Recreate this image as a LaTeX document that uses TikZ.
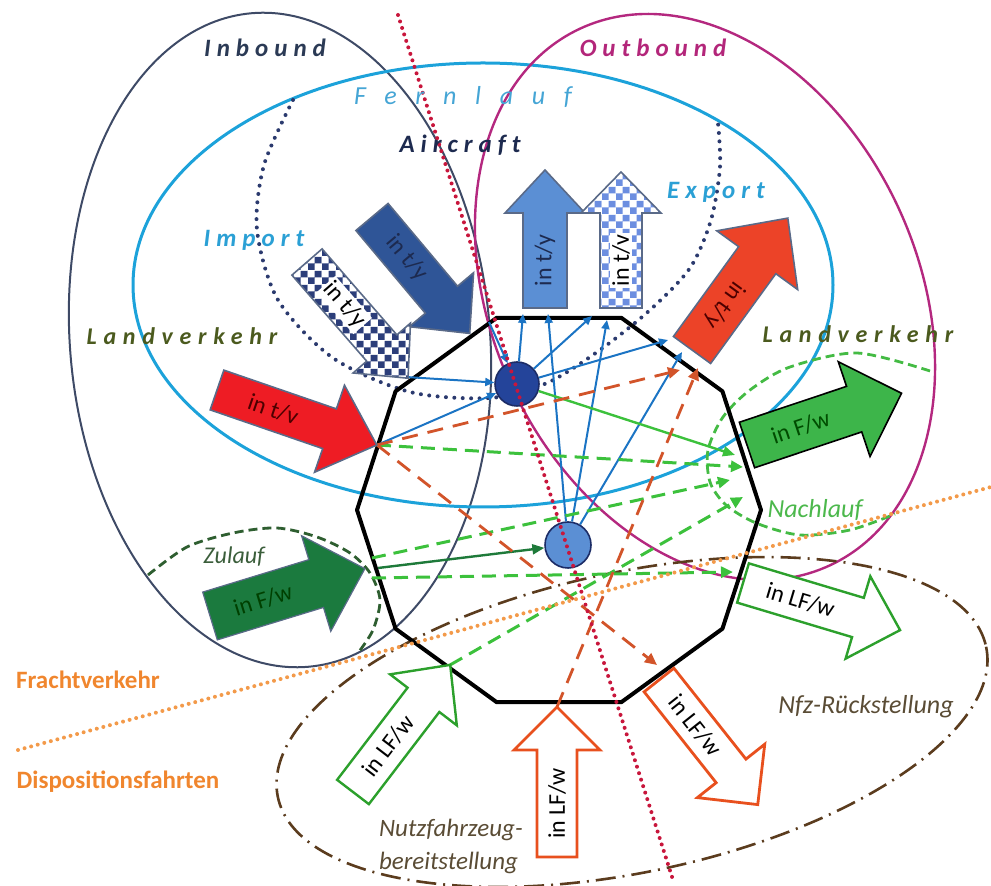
\documentclass[tikz,border=0pt]{standalone}
\usepackage{fontspec}
\setmainfont{Carlito}
\usetikzlibrary{arrows.meta,patterns}

\definecolor{inbline}{HTML}{3E4A66}
\definecolor{outbline}{HTML}{B4287F}
\definecolor{fernline}{HTML}{1CA2DA}
\definecolor{airdot}{HTML}{2B3A6E}
\definecolor{zulline}{HTML}{2E5E30}
\definecolor{nachline}{HTML}{44BB44}
\definecolor{nfzline}{HTML}{5B3C1E}
\definecolor{reddot}{HTML}{C8163C}
\definecolor{orgdot}{HTML}{F39A4A}
\definecolor{flowblue}{HTML}{1B74C4}
\definecolor{flowgreen}{HTML}{3CC13C}
\definecolor{flowdkgreen}{HTML}{1E7A3A}
\definecolor{flowrust}{HTML}{D2542A}
\definecolor{hubedge}{HTML}{1C2C66}
\definecolor{acfill}{HTML}{24449A}
\definecolor{trkfill}{HTML}{5B8FD4}
\definecolor{dkblue}{HTML}{2F5597}
\definecolor{midblue}{HTML}{5B8FD4}
\definecolor{arredge}{HTML}{5A6A88}
\definecolor{impcheck}{HTML}{2C3E7A}
\definecolor{skycheck}{HTML}{6C8EE0}
\definecolor{expred}{HTML}{EC4328}
\definecolor{lvred}{HTML}{EE1C24}
\definecolor{lvgreen}{HTML}{3DB54A}
\definecolor{zulgreen}{HTML}{1B7A3E}
\definecolor{lfgreen}{HTML}{2CA02C}
\definecolor{lforange}{HTML}{E8501E}
\definecolor{inbtext}{HTML}{2B3A55}
\definecolor{outbtext}{HTML}{B3267A}
\definecolor{ferntext}{HTML}{45A5D5}
\definecolor{airtext}{HTML}{1D2A4F}
\definecolor{imptext}{HTML}{2BA0D5}
\definecolor{landtext}{HTML}{4B5A1E}
\definecolor{zultext}{HTML}{3B5E3B}
\definecolor{nachtext}{HTML}{4CB84C}
\definecolor{orgtext}{HTML}{F0862E}
\definecolor{nfztext}{HTML}{5A4C35}

% checker fills, squares of 3.5pt
\pgfdeclarepatterninherentlycolored{navychecks}{\pgfpointorigin}{\pgfqpoint{7pt}{7pt}}{\pgfqpoint{7pt}{7pt}}{%
  \pgfsetfillcolor{white}\pgfpathrectangle{\pgfpointorigin}{\pgfqpoint{7pt}{7pt}}\pgfusepath{fill}%
  \pgfsetfillcolor{impcheck}%
  \pgfpathrectangle{\pgfpointorigin}{\pgfqpoint{3.5pt}{3.5pt}}%
  \pgfpathrectangle{\pgfqpoint{3.5pt}{3.5pt}}{\pgfqpoint{3.5pt}{3.5pt}}\pgfusepath{fill}}
\pgfdeclarepatterninherentlycolored{skychecks}{\pgfpointorigin}{\pgfqpoint{7pt}{7pt}}{\pgfqpoint{7pt}{7pt}}{%
  \pgfsetfillcolor{white}\pgfpathrectangle{\pgfpointorigin}{\pgfqpoint{7pt}{7pt}}\pgfusepath{fill}%
  \pgfsetfillcolor{skycheck}%
  \pgfpathrectangle{\pgfpointorigin}{\pgfqpoint{3.5pt}{3.5pt}}%
  \pgfpathrectangle{\pgfqpoint{3.5pt}{3.5pt}}{\pgfqpoint{3.5pt}{3.5pt}}\pgfusepath{fill}}

\tikzset{
  hull/.style={line width=2pt, line join=round},
  hub/.style={circle, draw=hubedge, line width=0.8pt, minimum size=22pt, inner sep=0pt},
  flow/.style={draw=flowblue, line width=1pt, -{Triangle[length=4.5pt,width=4pt]}},
  gflow/.style={line width=1.2pt, -{Triangle[length=6pt,width=5pt]}},
  gdash/.style={draw=flowgreen, line width=1.5pt, dash pattern=on 7pt off 4pt, -{Triangle[length=6pt,width=5.5pt]}},
  odash/.style={draw=flowrust, line width=1.4pt, dash pattern=on 8pt off 5pt, -{Triangle[length=6pt,width=5.5pt]}},
  dotline/.style={line width=2pt, line cap=round, dash pattern=on 0pt off 3.4pt},
  arrowtext/.style={font=\fontsize{12}{12}\selectfont, inner sep=1pt},
  bigtag/.style={font=\fontsize{12.5}{15}\selectfont\bfseries\itshape\addfontfeature{LetterSpace=24,Ligatures=NoCommon}},
  tag/.style={font=\fontsize{13}{15}\selectfont\itshape},
  sidetag/.style={font=\fontsize{12.5}{15}\selectfont\bfseries, text=orgtext},
  pics/fatarrow/.style n args={7}{code={
    \begin{scope}[rotate=#1]
      \path[pic actions] (0,-#3) -- ({#2-#5},-#3) -- ({#2-#5},-#4) -- (#2,0)
        -- ({#2-#5},#4) -- ({#2-#5},#3) -- (0,#3) -- cycle;
      \node (-txt) [arrowtext, rotate=#6] at ({(#2-#5)/2},0) {#7};
    \end{scope}}},
}

\begin{document}
\begin{tikzpicture}[x=0.5pt, y=-0.5pt]
	\useasboundingbox (0,0) rectangle (991,886);

	%areas
	\draw[inbline, line width=1pt, rotate around={5:(280,340)}] (280,340) ellipse (210 and 328);
	\draw[fernline, line width=1.5pt] (483,285) ellipse (350 and 222);
	\draw[outbline, line width=1.2pt, rotate around={25:(705,297)}] (705,297) ellipse (213 and 296);
	\draw[nfzline, line width=1.3pt, dash pattern=on 10pt off 3.5pt on 1pt off 3.5pt, rotate around={12:(632,722)}] (632,722) ellipse (362 and 150);
	\draw[airdot, dotline, dash pattern=on 0pt off 4.2pt, smooth] plot coordinates {(293,100) (264,165) (257,230) (278,300) (333,358) (410,392) (490,398) (547,383) (600,350) (650,310) (690,268) (711,220) (720,167) (718,123)};
	\draw[zulline, line width=1.4pt, dash pattern=on 4.5pt off 2.5pt, smooth] plot coordinates {(148,575) (187,547) (233,533) (277,528) (317,537) (350,553) (370,573) (380,600) (373,630) (358,653)};
	\draw[nachline, line width=1.4pt, dash pattern=on 4.5pt off 2.5pt, smooth] plot coordinates {(930,371) (857,353) (790,367) (750,390) (723,417) (708,450) (710,482) (726,505) (756,523) (800,535) (850,530) (895,514)};

	%terminal
	\coordinate (ctr) at (559,510);
	\draw[hull] ([shift={(0:202)}]ctr) \foreach \k in {1,...,9}{ -- ([shift={(36*\k:202)}]ctr)} -- cycle;

	%hubs
	\node (air) [hub, fill=acfill] at (517,384) {};
	\node (trk) [hub, fill=trkfill, minimum size=23pt] at (568,545) {};

	%ports on the hull
	\coordinate (acin) at (489,322);
	\coordinate (imptip) at (406,377);
	\coordinate (redtip) at (377,445);
	\coordinate (upa) at (523,314);
	\coordinate (upb) at (548,314);
	\coordinate (cka) at (592,316);
	\coordinate (ckb) at (607,320);
	\coordinate (exa) at (668,340);
	\coordinate (exb) at (682,352);
	\coordinate (exc) at (680,370);
	\coordinate (exd) at (698,368);
	\coordinate (fwin) at (735,455);
	\coordinate (zula) at (372,558);
	\coordinate (zulb) at (372,578);
	\coordinate (zultip) at (378,568);
	\coordinate (lfwtip) at (450,665);
	\coordinate (lfwin) at (733,572);
	\coordinate (upotip) at (557,707);
	\coordinate (dotail) at (657,665);
	\coordinate (naa) at (743,467);
	\coordinate (nab) at (730,480);
	\coordinate (nac) at (743,497);

	%flows
	\draw[flow] (acin) -- (air);
	\draw[flow] (imptip) -- (air);
	\draw[flow] (redtip) -- (air);
	\draw[flow] (air) -- (upa);
	\draw[flow] (air) -- (cka);
	\draw[flow] (air) -- (exa);
	\draw[flow] (trk) -- (upb);
	\draw[flow] (trk) -- (ckb);
	\draw[flow] (trk) -- (exb);
	\draw[gflow, draw=flowgreen] (air) -- (fwin);
	\draw[gflow, draw=flowdkgreen] (zultip) -- (trk);
	\draw[gdash] (redtip) -- (naa);
	\draw[gdash] (zula) -- (nab);
	\draw[gdash] (zulb) -- (lfwin);
	\draw[gdash] (lfwtip) -- (nac);
	\draw[odash] (redtip) -- (exc);
	\draw[odash] (redtip) -- (dotail);
	\draw[odash] (upotip) -- (exd);

	%block arrows
	\pic (acimp) [fill=dkblue, draw=arredge, line width=0.8pt, text=airtext] at (372,217) {fatarrow={-50}{152}{21}{42}{44}{-50}{in t/y}};
	\pic (imp) [pattern=navychecks, draw=arredge, line width=0.8pt, every node/.append style={fill=white}] at (307,262) {fatarrow={-49}{154}{20}{38}{40}{-49}{in t/y}};
	\pic (acexp) [fill=midblue, draw=arredge, line width=0.8pt, text=airtext] at (545,308) {fatarrow={90}{138}{22}{40}{43}{90}{in t/y}};
	\pic (exp) [pattern=skychecks, draw=arredge, line width=0.8pt, every node/.append style={fill=white}] at (621,308) {fatarrow={90}{136}{21}{40}{41}{90}{in t/v}};
	\pic (lvexp) [fill=expred, draw=arredge, line width=0.8pt, text=black!70!red] at (692,350) {fatarrow={54}{163}{23}{50}{52}{234}{in t/y}};
	\pic (lvimp) [fill=lvred, draw=arredge, line width=0.8pt, text=black!70!red] at (217,390) {fatarrow={-19}{169}{21}{46}{50}{-19}{in t/v}};
	\pic (nach) [fill=lvgreen, draw=black, line width=0.8pt, text=black!70!green] at (747,445) {fatarrow={18.5}{163}{24}{50}{50}{18.5}{in F/w}};
	\pic (zul) [fill=zulgreen, draw=arredge, line width=0.6pt, text=black!75!green, every node/.append style={font=\fontsize{11}{11}\selectfont}] at (210,616) {fatarrow={17}{162}{25}{50}{51}{17}{in F/w}};
	\pic (bsin) [fill=white, draw=lfgreen, line width=1.2pt] at (353,792) {fatarrow={52.6}{160}{20}{42}{44}{52.6}{in LF/w}};
	\pic (nfzout) [fill=white, draw=lforange, line width=1.4pt] at (557,857) {fatarrow={90}{150}{20}{43}{43}{90}{in LF/w}};
	\pic (nfzin) [fill=white, draw=lforange, line width=1.4pt] at (659,680) {fatarrow={-51.6}{159}{19}{43}{43}{-51.6}{in LF/w}};
	\pic (bsout) [fill=white, draw=lfgreen, line width=1.2pt] at (743,583) {fatarrow={-16.7}{164}{20.5}{43}{44}{-16.7}{in LF/w}};

	%dividers
	\draw[reddot, dotline] (398,15) -- (673,880);
	\draw[orgdot, dotline] (18,750) -- (991,487);

	%labels
	\node (inb) [bigtag, text=inbtext] at (265,48) {Inbound};
	\node (outb) [bigtag, text=outbtext] at (653,48) {Outbound};
	\node (fern) [font=\fontsize{13}{15}\selectfont\itshape\addfontfeature{LetterSpace=72}, text=ferntext] at (463,97) {Fernlauf};
	\node (aircr) [bigtag, text=airtext] at (460,145) {Aircraft};
	\node (impl) [bigtag, text=imptext] at (254,240) {Import};
	\node (expl) [bigtag, text=imptext] at (716,192) {Export};
	\node (landl) [bigtag, font=\fontsize{12}{15}\selectfont\bfseries\itshape\addfontfeature{LetterSpace=28}, text=landtext] at (182,336) {Landverkehr};
	\node (landr) [bigtag, font=\fontsize{12}{15}\selectfont\bfseries\itshape\addfontfeature{LetterSpace=28}, text=landtext] at (858,334) {Landverkehr};
	\node (zull) [tag, font=\fontsize{12}{15}\selectfont\itshape, text=zultext] at (234,557) {Zulauf};
	\node (nachl) [tag, text=nachtext] at (815,510) {Nachlauf};
	\node (nfzr) [tag, text=nfztext] at (866,707) {Nfz-Rückstellung};
	\node (nfzb) [tag, font=\fontsize{12.5}{16.5}\selectfont\itshape, text=nfztext, align=left, anchor=north west] at (372,812) {Nutzfahrzeug-\\bereitstellung};
	\node (fracht) [sidetag] at (88,680) {Frachtverkehr};
	\node (dispo) [sidetag] at (118,782) {Dispositionsfahrten};
\end{tikzpicture}
\end{document}
